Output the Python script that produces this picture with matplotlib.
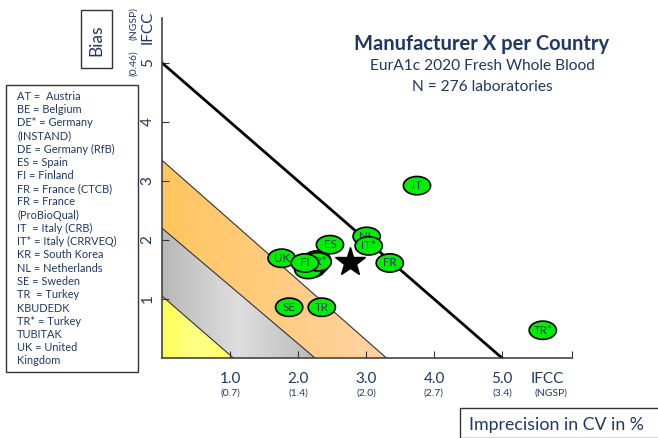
import numpy as np
import matplotlib
matplotlib.use("Agg")
from matplotlib import pyplot as plt
from matplotlib.patches import Ellipse, Polygon, Rectangle

plt.rcParams['font.family'] = ['Lato', 'DejaVu Sans']

NAVY = '#1f3864'

# laboratory groups: imprecision (CV %, IFCC) and bias (IFCC)
labels = ['AT', 'BE', 'DE', 'DE*', 'KR', 'IT', 'NL', 'IT*', 'ES', 'UK', 'FR*', 'FI', 'FR', 'SE', 'TR', 'TR*']
cv = [2.20, 2.25, 2.18, 2.28, 2.15, 3.75, 3.01, 3.04, 2.47, 1.76, 2.29, 2.10, 3.35, 1.87, 2.35, 5.60]
bias = [1.52, 1.58, 1.55, 1.66, 1.50, 2.92, 2.06, 1.90, 1.92, 1.69, 1.63, 1.61, 1.61, 0.86, 0.86, 0.47]
shown = [False, False, False, False, False, True, True, True, True, True, True, True, True, True, True, True]
mean_cv, mean_bias = 2.76, 1.63

# quality zones (intercepts on bias and CV axes)
zone_bias = [1.05, 2.2, 3.35, 5.0]
zone_cv = [1.05, 2.25, 3.3, 5.0]

xticks = [1, 2, 3, 4, 5]
xtick_ngsp = ['(0.7)', '(1.4)', '(2.0)', '(2.7)', '(3.4)']
yticks = [1, 2, 3, 4, 5]
ytick_ngsp = ['(0.09)', '(0.18)', '(0.28)', '(0.37)', '(0.46)']

legend_lines = ['AT =  Austria', 'BE = Belgium', 'DE* = Germany', '(INSTAND)', 'DE = Germany (RfB)',
                'ES = Spain', 'FI = Finland', 'FR = France (CTCB)', 'FR = France', '(ProBioQual)',
                'IT  = Italy (CRB)', 'IT* = Italy (CRRVEQ)', 'KR = South Korea', 'NL = Netherlands',
                'SE = Sweden', 'TR  = Turkey', 'KBUDEDK', 'TR* = Turkey', 'TUBITAK', 'UK = United', 'Kingdom']

fig = plt.figure(figsize=(6.58, 4.38), dpi=100)
ax = fig.add_axes([162 / 658, 80 / 438, 410 / 658, 340 / 438])
XMAX, YMAX = 6.03, 5.76


def gradient_fill(poly, c_left, c_mid, c_right):
    grad = np.linspace(0, 1, 256)
    cols = np.array([matplotlib.colors.to_rgb(c) for c in (c_left, c_mid, c_right)])
    r = np.interp(grad, [0, 0.5, 1], cols[:, 0])
    g = np.interp(grad, [0, 0.5, 1], cols[:, 1])
    b = np.interp(grad, [0, 0.5, 1], cols[:, 2])
    img = np.dstack([r, g, b])
    xs = [p[0] for p in poly]
    ys = [p[1] for p in poly]
    im = ax.imshow(img, extent=[min(xs), max(xs), min(ys), max(ys)], aspect='auto', zorder=1)
    patch = Polygon(poly, closed=True, facecolor='none', edgecolor='none')
    ax.add_patch(patch)
    im.set_clip_path(patch)


gradient_fill([(0, 0), (0, zone_bias[0]), (zone_cv[0], 0)], '#ffff55', '#ffff88', '#ffff66')
gradient_fill([(zone_cv[0], 0), (0, zone_bias[0]), (0, zone_bias[1]), (zone_cv[1], 0)],
              '#b8b8b8', '#dedede', '#bbbbbb')
gradient_fill([(zone_cv[1], 0), (0, zone_bias[1]), (0, zone_bias[2]), (zone_cv[2], 0)],
              '#ffc65e', '#ffcc80', '#ffd3a6')
ax.set_xlim(0, XMAX)
ax.set_ylim(0, YMAX)
for i in range(3):
    ax.plot([0, zone_cv[i]], [zone_bias[i], 0], color='#333333', lw=0.8, zorder=2)
ax.plot([0, zone_cv[3]], [zone_bias[3], 0], color='black', lw=2, zorder=2)

# lab markers
for lab, x, y, s in zip(labels, cv, bias, shown):
    ax.add_patch(Ellipse((x, y), 0.40, 0.31, facecolor='#00ee00', edgecolor='black', lw=1.2, zorder=3))
    if s:
        ax.text(x, y, lab, ha='center', va='center', fontsize=8.3, color=NAVY, zorder=3)
ax.plot(mean_cv, mean_bias, marker='*', color='black', markersize=22, zorder=4)

for side in ['top', 'right']:
    ax.spines[side].set_visible(False)
for side in ['left', 'bottom']:
    ax.spines[side].set_color('#444444')
    ax.spines[side].set_linewidth(1.2)
ax.set_xticks(xticks + [XMAX])
ax.set_yticks(yticks)
ax.tick_params(direction='in', length=5, color='#333333', labelbottom=False, labelleft=False)

# tick labels with NGSP equivalents
for x, n in zip(xticks, xtick_ngsp):
    ax.text(x, -0.35, f'{x:.1f}', ha='center', va='center', fontsize=11, color=NAVY)
    ax.text(x, -0.6, n, ha='center', va='center', fontsize=7.5, color=NAVY)
ax.text(5.66, -0.35, 'IFCC', ha='center', va='center', fontsize=11, color=NAVY)
ax.text(5.72, -0.6, '(NGSP)', ha='center', va='center', fontsize=7.5, color=NAVY)
for y, n in zip(yticks, ytick_ngsp):
    ax.text(-0.21, y, str(y), ha='center', va='center', fontsize=11, color=NAVY, rotation=90)
    ax.text(-0.42, y, n, ha='center', va='center', fontsize=7.5, color=NAVY, rotation=90)
ax.text(-0.21, 5.6, 'IFCC', ha='center', va='center', fontsize=11, color=NAVY, rotation=90)
ax.text(-0.42, 5.66, '(NGSP)', ha='center', va='center', fontsize=7.5, color=NAVY, rotation=90)

# titles
fig.text(482 / 658, 1 - 44 / 438, 'Manufacturer X per Country', ha='center', va='center',
         fontsize=14.5, fontweight='bold', color=NAVY)
fig.text(482 / 658, 1 - 66 / 438, 'EurA1c 2020 Fresh Whole Blood', ha='center', va='center',
         fontsize=11.2, color=NAVY)
fig.text(482 / 658, 1 - 87 / 438, 'N = 276 laboratories', ha='center', va='center',
         fontsize=11.2, color=NAVY)

# boxed axis names
fig.patches.append(Rectangle((81 / 658, 1 - 68 / 438), 31 / 658, 58 / 438, transform=fig.transFigure,
                             facecolor='white', edgecolor='#333333', lw=1))
fig.text(96 / 658, 1 - 40 / 438, 'Bias', ha='center', va='center', fontsize=12.5, color=NAVY, rotation=90)
fig.patches.append(Rectangle((460 / 658, 0), 200 / 658, 30 / 438, transform=fig.transFigure,
                             facecolor='white', edgecolor='#333333', lw=1))
fig.text(469 / 658, 13 / 438, 'Imprecision in CV in %', ha='left', va='center', fontsize=12.8, color=NAVY)

# country legend box
fig.patches.append(Rectangle((6 / 658, 1 - 372 / 438), 132 / 658, 287 / 438, transform=fig.transFigure,
                             facecolor='white', edgecolor='#333333', lw=1))
for i, line in enumerate(legend_lines):
    fig.text(17 / 658, 1 - (96 + i * 13.25) / 438, line, ha='left', va='center', fontsize=7.9, color=NAVY)

fig.savefig('out.png', dpi=100)
